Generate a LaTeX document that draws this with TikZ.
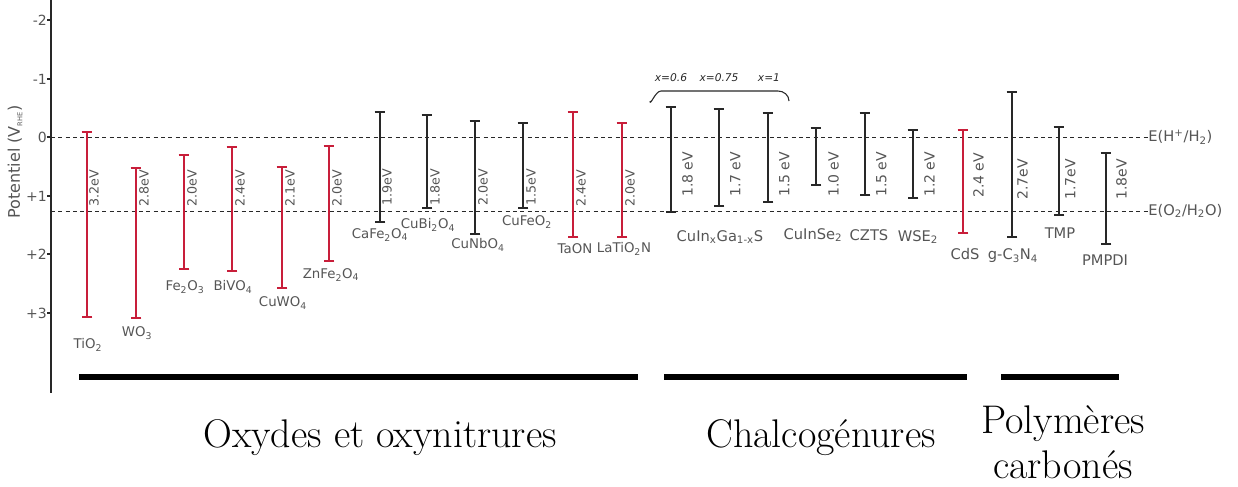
\documentclass[tikz,border=0pt]{standalone}
\usepackage{fontspec}
\newfontfamily\labelfont{DejaVu Sans}
\usetikzlibrary{
    arrows.meta,
    positioning
}
\definecolor{gapred}{RGB}{200, 30, 58}
\definecolor{gapblack}{RGB}{40, 40, 40}
\definecolor{txtgray}{RGB}{85, 85, 85}
\newcommand{\indice}[1]{\textsubscript{#1}}

\begin{document}
\begin{tikzpicture}[
        x=0.75pt, y=-0.75pt,
        redbar/.style={draw=gapred, line width=1.2pt, {Bar[width=8pt]}-{Bar[width=8pt]}},
        blackbar/.style={draw=gapblack, line width=1.2pt, {Bar[width=8pt]}-{Bar[width=8pt]}},
        mat/.style={inner sep=0, text=txtgray, font=\labelfont\fontsize{10}{12}\selectfont},
        bigmat/.style={inner sep=0, text=txtgray, font=\labelfont\fontsize{11}{13}\selectfont},
        gapox/.style={rotate=90, anchor=north west, inner sep=0, text=txtgray, font=\labelfont\fontsize{9.5}{11}\selectfont},
        gapch/.style={rotate=90, anchor=north west, inner sep=0, text=txtgray, font=\labelfont\fontsize{10.5}{12}\selectfont},
        tick/.style={anchor=east, inner sep=0, text=txtgray, font=\labelfont\fontsize{10.5}{12}\selectfont},
        refline/.style={dashed, draw=gapblack, line width=0.6pt, dash pattern=on 3pt off 2.5pt},
        family/.style={line width=5.2pt, draw=black},
        famlabel/.style={align=center, font=\fontsize{30}{34}\selectfont}
    ]
        \useasboundingbox (0,0) rectangle (1238,486);

        % Axis
        \draw[gapblack, line width=0.8pt] (51,0) -- (51,393);
        \draw[gapblack, line width=0.8pt] (47,20) -- (51,20);
        \draw[gapblack, line width=0.8pt] (47,79) -- (51,79);
        \draw[gapblack, line width=0.8pt] (47,137) -- (51,137);
        \draw[gapblack, line width=0.8pt] (47,196) -- (51,196);
        \draw[gapblack, line width=0.8pt] (47,254) -- (51,254);
        \draw[gapblack, line width=0.8pt] (47,313) -- (51,313);
        \node[tick] (tm2) at (47,20) {-2};
        \node[tick] (tm1) at (47,79) {-1};
        \node[tick] (t0) at (47,137) {0};
        \node[tick] (tp1) at (47,196) {+1};
        \node[tick] (tp2) at (47,254) {+2};
        \node[tick] (tp3) at (47,313) {+3};
        \node[mat, rotate=90, font=\labelfont\fontsize{12}{14}\selectfont] (ylab) at (15,162) {Potentiel (V\indice{\tiny RHE})};

        % Redox levels
        \node[bigmat, anchor=west] (hyd) at (1148,137) {E(H\textsuperscript{+}/H\indice{2})};
        \node[bigmat, anchor=west] (oxy) at (1148,211) {E(O\indice{2}/H\indice{2}O)};
        \draw[refline] (51,137) -- (hyd.west);
        \draw[refline] (51,211) -- (oxy.west);

        % Oxydes
        \draw[redbar] (87,131) -- (87,318);
        \node[gapox] (tio2g) at (89,207) {3.2eV};
        \node[mat] (tio2) at (88,345) {TiO\indice{2}};
        \draw[redbar] (136,167) -- (136,319);
        \node[gapox] (wo3g) at (139,207) {2.8eV};
        \node[mat] (wo3) at (137,333) {WO\indice{3}};
        \draw[redbar] (184,154) -- (184,270);
        \node[gapox] (fe2o3g) at (187,207) {2.0eV};
        \node[mat] (fe2o3) at (185,287) {Fe\indice{2}O\indice{3}};
        \draw[redbar] (232,146) -- (232,272);
        \node[gapox] (bivo4g) at (235,207) {2.4eV};
        \node[mat] (bivo4) at (233,287) {BiVO\indice{4}};
        \draw[redbar] (282,166) -- (282,289);
        \node[gapox] (cuwo4g) at (285,207) {2.1eV};
        \node[mat] (cuwo4) at (283,303) {CuWO\indice{4}};
        \draw[redbar] (329,145) -- (329,262);
        \node[gapox] (znfe2o4g) at (332,207) {2.0eV};
        \node[mat] (znfe2o4) at (331,275) {ZnFe\indice{2}O\indice{4}};
        \draw[blackbar] (380,111) -- (380,223);
        \node[gapox] (cafe2o4g) at (382,206) {1.9eV};
        \node[mat] (cafe2o4) at (380,235) {CaFe\indice{2}O\indice{4}};
        \draw[blackbar] (427,114) -- (427,209);
        \node[gapox] (cubi2o4g) at (430,206) {1.8eV};
        \node[mat] (cubi2o4) at (428,225) {CuBi\indice{2}O\indice{4}};
        \draw[blackbar] (475,120) -- (475,235);
        \node[gapox] (cunbo4g) at (478,206) {2.0eV};
        \node[mat] (cunbo4) at (478,245) {CuNbO\indice{4}};
        \draw[blackbar] (523,122) -- (523,209);
        \node[gapox] (cufeo2g) at (526,206) {1.5eV};
        \node[mat] (cufeo2) at (527,222) {CuFeO\indice{2}};
        \draw[redbar] (573,111) -- (573,238);
        \node[gapox] (taong) at (576,207) {2.4eV};
        \node[mat] (taon) at (575,249) {TaON};
        \draw[redbar] (622,122) -- (622,238);
        \node[gapox] (latio2ng) at (625,207) {2.0eV};
        \node[mat] (latio2n) at (624,249) {LaTiO\indice{2}N};

        % Chalcogenures
        \node[font=\labelfont\itshape\fontsize{8}{9}\selectfont, text=gapblack] (x06) at (671,78) {x=0.6};
        \node[font=\labelfont\itshape\fontsize{8}{9}\selectfont, text=gapblack] (x075) at (719,78) {x=0.75};
        \node[font=\labelfont\itshape\fontsize{8}{9}\selectfont, text=gapblack] (x1) at (769,78) {x=1};
        \draw[gapblack, line width=0.8pt] (650,101) to[out=-90, in=180] (661,91) -- (778,91) to[out=0, in=90] (789,101);
        \draw[blackbar] (671,106) -- (671,213);
        \node[gapch] (cigs1g) at (682,197) {1.8 eV};
        \draw[blackbar] (719,108) -- (719,207);
        \node[gapch] (cigs2g) at (730,197) {1.7 eV};
        \draw[blackbar] (768,112) -- (768,203);
        \node[gapch] (cigs3g) at (779,197) {1.5 eV};
        \node[bigmat] (cigs) at (720,237) {CuIn\indice{x}Ga\indice{1-x}S};
        \draw[blackbar] (816,127) -- (816,186);
        \node[gapch] (cuinse2g) at (828,197) {1.0 eV};
        \node[bigmat] (cuinse2) at (813,235) {CuInSe\indice{2}};
        \draw[blackbar] (865,112) -- (865,196);
        \node[gapch] (cztsg) at (876,197) {1.5 eV};
        \node[bigmat] (czts) at (869,235) {CZTS};
        \draw[blackbar] (913,129) -- (913,199);
        \node[gapch] (wse2g) at (924,197) {1.2 eV};
        \node[bigmat] (wse2) at (918,237) {WSE\indice{2}};
        \draw[redbar] (963,129) -- (963,234);
        \node[gapch] (cdsg) at (973,198) {2.4 eV};
        \node[bigmat] (cds) at (965,254) {CdS};

        % Polymeres
        \draw[blackbar] (1012,91) -- (1012,238);
        \node[gapch] (gc3n4g) at (1017,200) {2.7eV};
        \node[bigmat] (gc3n4) at (1013,256) {g-C\indice{3}N\indice{4}};
        \draw[blackbar] (1059,126) -- (1059,216);
        \node[gapch] (tmpg) at (1065,200) {1.7eV};
        \node[bigmat] (tmp) at (1060,233) {TMP};
        \draw[blackbar] (1106,152) -- (1106,245);
        \node[gapch] (pmpdig) at (1116,200) {1.8eV};
        \node[bigmat] (pmpdi) at (1105,260) {PMPDI};

        % Families
        \draw[family] (79,377) -- (638,377);
        \draw[family] (664,377) -- (967,377);
        \draw[family] (1001,377) -- (1119,377);
        \node[famlabel] (oxydes) at (380,438) {Oxydes et oxynitrures};
        \node[famlabel] (chalco) at (821,438) {Chalcogénures};
        \node[famlabel] (polym) at (1063,442) {Polymères\\carbonés};
    \end{tikzpicture}
\end{document}
